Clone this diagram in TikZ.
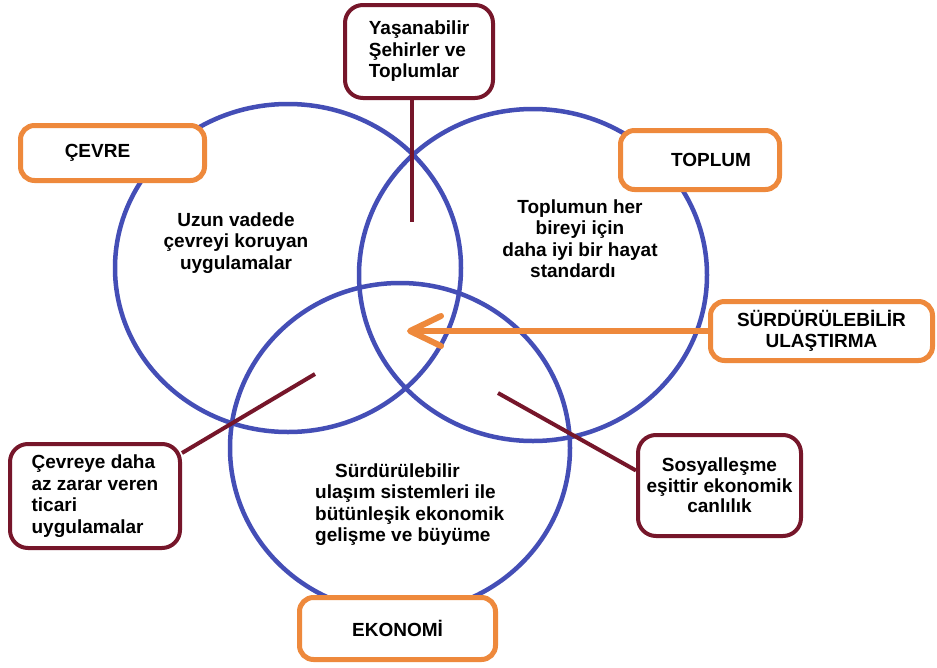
\documentclass[tikz,border=0pt]{standalone}
\usepackage{fontspec}
\setmainfont{Liberation Sans}
\usetikzlibrary{arrows.meta}
\definecolor{cblue}{RGB}{68,78,182}
\definecolor{corange}{RGB}{238,137,60}
\definecolor{cmaroon}{RGB}{118,22,42}
\begin{document}
\begin{tikzpicture}[x=1pt,y=-1pt,
  ring/.style={draw=cblue,line width=4.5pt},
  txt/.style={font=\bfseries\fontsize{19}{21.5}\selectfont},
  txtb/.style={font=\bfseries\fontsize{19}{20.5}\selectfont},
  obox/.style={draw=corange,line width=5pt,rounded corners=14pt,fill=white,inner sep=0pt,align=center,txt},
  mbox/.style={draw=cmaroon,line width=4pt,rounded corners=18pt,fill=white,inner sep=0pt,align=center,txt},
  lbl/.style={inner sep=0pt,align=center,txt},
  mline/.style={draw=cmaroon,line width=4pt},
  oarrow/.style={draw=corange,line width=6pt,-{Straight Barb[length=31pt,width=30pt,round]}}
]
\useasboundingbox[fill=white] (0,0) rectangle (937,667);

% circles
\draw[ring] (288,268) ellipse [x radius=173pt, y radius=164pt];
\draw[ring] (533,275) ellipse [x radius=174pt, y radius=166pt];
\draw[ring] (400,448) ellipse [x radius=170pt, y radius=165pt];

% texts inside circles
\node[lbl] (cev) at (236,243) {Uzun vadede\\çevreyi koruyan\\uygulamalar};
\node[lbl] (top) at (580,238.5) {Toplumun her\\bireyi için\\daha iyi bir hayat\\standardı\hspace*{14pt}};
\node[lbl,align=left,anchor=west] (eko) at (315,504.5) {\hspace*{20pt}Sürdürülebilir\\ulaşım sistemleri ile\\bütünleşik ekonomik\\gelişme ve büyüme};

% boxes
\node[mbox,align=left,minimum width=148pt,minimum height=93pt] (yas) at (419,51.5) {Yaşanabilir\\Şehirler ve\\Toplumlar};
\node[obox,minimum width=184pt,minimum height=55pt] (cv) at (112.5,153) {ÇEVRE\hspace*{30pt}};
\node[obox,minimum width=159pt,minimum height=59pt] (tp) at (700,160) {\hspace*{22pt}TOPLUM};
\node[obox,minimum width=222pt,minimum height=59pt,txtb] (sb) at (821.5,331) {SÜRDÜRÜLEBİLİR\\ULAŞTIRMA};
\node[obox,minimum width=196pt,minimum height=62pt] (ek) at (397.5,628.5) {EKONOMİ};
\node[mbox,align=left,minimum width=170pt,minimum height=104pt] (cz) at (95,496) {Çevreye daha\\az zarar veren\\ticari\\uygulamalar};
\node[mbox,minimum width=163pt,minimum height=101pt,txtb] (so) at (719.5,485.5) {Sosyalleşme\\eşittir ekonomik\\canlılık};

% connectors
\coordinate (yasend) at (412,222);
\coordinate (czend) at (315,374);
\coordinate (soend) at (498,393);
\coordinate (tip) at (407,331);
\draw[mline] (yasend |- yas.south) -- (yasend);
\draw[mline] ([yshift=43pt]cz.east) -- (czend);
\draw[mline] (soend) -- ([yshift=15pt]so.west);
\draw[oarrow] (sb.west) -- (tip);
\end{tikzpicture}
\end{document}
